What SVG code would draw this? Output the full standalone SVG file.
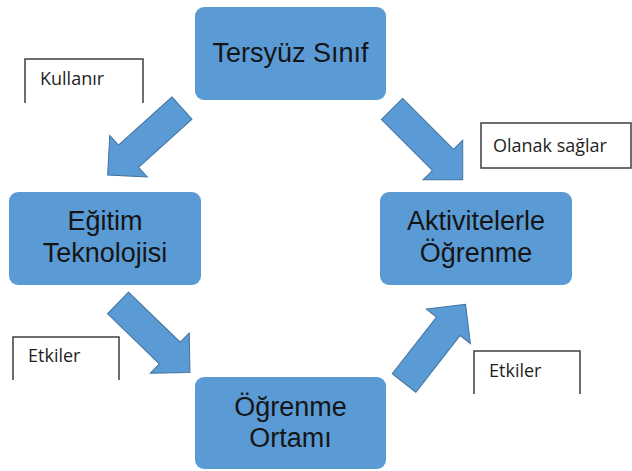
<svg xmlns="http://www.w3.org/2000/svg" xmlns:xlink="http://www.w3.org/1999/xlink" width="632" height="471" viewBox="0 0 632 471">
<style>
.node{fill:#5B9BD5;}
.nt{font-family:"Liberation Sans",Arial,sans-serif;font-size:27px;fill:#151515;text-anchor:middle;}
.lb{fill:none;stroke:#3f3f3f;stroke-width:1.5;}
.lt{font-family:"Open Sans","Liberation Sans",sans-serif;font-size:18px;fill:#1e1e1e;}
.arr{fill:#5B9BD5;stroke:#41719C;stroke-width:1;}
</style>
<defs>
<path id="blockArrow" d="M0,-15 H72 V-28 L100,0 L72,28 V15 H0 Z"/>
</defs>
<rect width="632" height="471" fill="#ffffff"/>
<g id="connectors">
<use xlink:href="#blockArrow" class="arr" transform="translate(182,108) rotate(138)"/>
<use xlink:href="#blockArrow" class="arr" transform="translate(392,109) rotate(45)"/>
<use xlink:href="#blockArrow" class="arr" transform="translate(118,303) rotate(44)"/>
<use xlink:href="#blockArrow" class="arr" transform="translate(404,383) rotate(-52)"/>
</g>
<g id="node-tersyuz">
<rect class="node" x="195" y="7" width="191" height="93" rx="9"/>
<text class="nt" x="290.5" y="62">Tersyüz Sınıf</text>
</g>
<g id="node-egitim">
<rect class="node" x="9" y="192" width="192" height="93" rx="9"/>
<text class="nt" x="105" y="230">Eğitim</text>
<text class="nt" x="105" y="262">Teknolojisi</text>
</g>
<g id="node-aktivite">
<rect class="node" x="380" y="192" width="192" height="93" rx="9"/>
<text class="nt" x="476" y="230">Aktivitelerle</text>
<text class="nt" x="476" y="262">Öğrenme</text>
</g>
<g id="node-ortam">
<rect class="node" x="195" y="377" width="191" height="92" rx="9"/>
<text class="nt" x="290.5" y="416">Öğrenme</text>
<text class="nt" x="290.5" y="447">Ortamı</text>
</g>
<g id="label-kullanir">
<path class="lb" d="M25,103 V59 H143 V103"/>
<text class="lt" x="40" y="85">Kullanır</text>
</g>
<g id="label-olanak">
<rect class="lb" x="481" y="123" width="150" height="45"/>
<text class="lt" x="493" y="152">Olanak sağlar</text>
</g>
<g id="label-etkiler-1">
<path class="lb" d="M13,380 V337 H119 V380"/>
<text class="lt" x="28" y="362">Etkiler</text>
</g>
<g id="label-etkiler-2">
<path class="lb" d="M474,394 V351 H580 V394"/>
<text class="lt" x="489" y="377">Etkiler</text>
</g>
</svg>
